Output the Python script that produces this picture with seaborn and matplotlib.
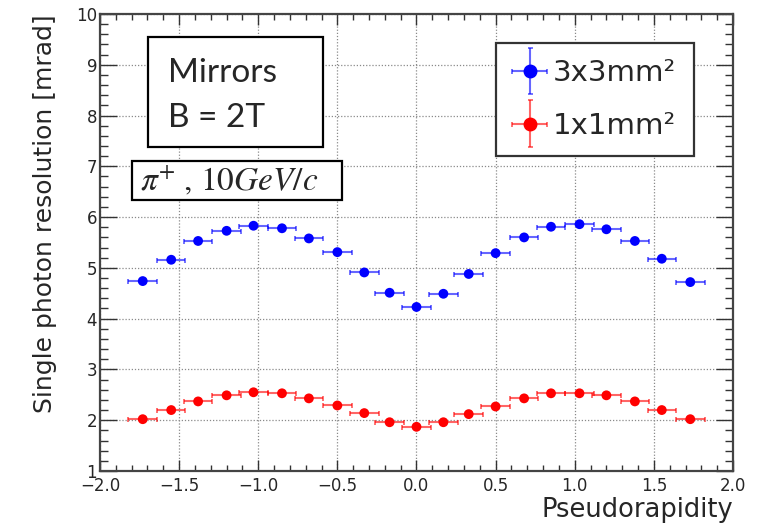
import matplotlib
matplotlib.use('Agg')
import matplotlib.pyplot as plt
import seaborn as sns
import pandas as pd
from matplotlib.patches import Rectangle
from matplotlib.lines import Line2D
from matplotlib.container import ErrorbarContainer
from matplotlib.legend_handler import HandlerErrorbar, HandlerTuple
from matplotlib.ticker import MultipleLocator, FuncFormatter

# ---- data ----
eta = [-1.73, -1.55, -1.38, -1.20, -1.03, -0.85, -0.68, -0.50, -0.33, -0.17, 0.00,
       0.17, 0.33, 0.50, 0.68, 0.85, 1.03, 1.20, 1.38, 1.55, 1.73]
res_3x3 = [4.74, 5.16, 5.53, 5.73, 5.83, 5.78, 5.58, 5.31, 4.91, 4.51, 4.23,
           4.49, 4.88, 5.29, 5.60, 5.81, 5.86, 5.76, 5.53, 5.18, 4.72]
res_1x1 = [2.02, 2.20, 2.37, 2.49, 2.55, 2.53, 2.43, 2.29, 2.14, 1.96, 1.87,
           1.96, 2.12, 2.27, 2.43, 2.53, 2.53, 2.49, 2.37, 2.20, 2.02]
eta_err = 0.09
res_err = 0.03
series_labels = ['3x3mm\u00b2', '1x1mm\u00b2']
series_colors = ['#0000ff', '#ff0000']
x_ticks = [-2.0, -1.5, -1.0, -0.5, 0.0, 0.5, 1.0, 1.5, 2.0]
y_ticks = [1, 2, 3, 4, 5, 6, 7, 8, 9, 10]

sns.set_theme(style='ticks')
plt.rcParams['font.family'] = ['DejaVu Sans']
plt.rcParams['mathtext.fontset'] = 'stix'

fig = plt.figure(figsize=(7.61, 5.26), dpi=100)
ax = fig.add_axes([0.1314, 0.1046, 0.8318, 0.8688])

df = pd.DataFrame({
    'eta': eta + eta,
    'res': res_3x3 + res_1x1,
    'series': [series_labels[0]] * len(eta) + [series_labels[1]] * len(eta),
})

containers = []
for vals, col in zip([res_3x3, res_1x1], series_colors):
    eb = ax.errorbar(eta, vals, xerr=eta_err, yerr=res_err, fmt='none',
                     ecolor=col, alpha=0.6, elinewidth=1.5, capsize=1.8,
                     capthick=1.3, zorder=2)
    containers.append(eb)

sns.scatterplot(data=df, x='eta', y='res', hue='series',
                palette=dict(zip(series_labels, series_colors)),
                s=50, edgecolor='none', linewidth=0, legend=False,
                ax=ax, zorder=3)

ax.set_xlim(-2.0, 2.0)
ax.set_ylim(1, 10)
ax.xaxis.set_minor_locator(MultipleLocator(0.1))
ax.yaxis.set_minor_locator(MultipleLocator(0.2))
ax.set_xticks(x_ticks)
ax.set_yticks(y_ticks)
ax.xaxis.set_major_formatter(FuncFormatter(lambda v, p: f'{v:.1f}'.replace('-', '\u2212')))
ax.yaxis.set_major_formatter(FuncFormatter(lambda v, p: f'{v:.0f}'))

ax.tick_params(which='both', direction='in', top=True, right=True,
               color='#333333', width=1.0, labelsize=12)
ax.tick_params(axis='x', which='major', length=8, pad=4)
ax.tick_params(axis='x', which='minor', length=4.5)
ax.tick_params(axis='y', which='major', length=12, pad=2)
ax.tick_params(axis='y', which='minor', length=5.5)

ax.grid(True, which='major', linestyle=(0, (1, 1.5)), color='#8a8a8a', linewidth=0.9)
ax.set_axisbelow(True)
for s in ax.spines.values():
    s.set_linewidth(1.6)
    s.set_color('#444444')

ax.set_xlabel('Pseudorapidity', fontsize=18.5, loc='right')
ax.set_ylabel('Single photon resolution [mrad]', fontsize=18, loc='top')
ax.xaxis.set_label_coords(1.0, -0.058)
ax.yaxis.set_label_coords(-0.068, 1.0)

# text boxes
ax.add_patch(Rectangle((0.0758, 0.709), 0.276, 0.2407, transform=ax.transAxes,
                       facecolor='white', edgecolor='black', linewidth=1.6,
                       zorder=5, clip_on=False))
ax.text(0.1074, 0.851, 'Mirrors', transform=ax.transAxes, fontsize=24,
        family=['Lato', 'DejaVu Sans'], va='baseline', ha='left', zorder=6)
ax.text(0.1074, 0.7527, 'B = 2T', transform=ax.transAxes, fontsize=24,
        family=['Lato', 'DejaVu Sans'], va='baseline', ha='left', zorder=6)

ax.add_patch(Rectangle((0.0506, 0.593), 0.3317, 0.085, transform=ax.transAxes,
                       facecolor='white', edgecolor='black', linewidth=1.6,
                       zorder=5, clip_on=False))
ax.text(0.0632, 0.615, r'$\pi^{+}\;,\,10GeV/c$', transform=ax.transAxes, fontsize=24,
        va='baseline', ha='left', zorder=6)

# legend
marker_handles = [Line2D([], [], marker='o', color=c, linestyle='none', markersize=9)
                  for c in series_colors]
handles = [(eb, mk) for eb, mk in zip(containers, marker_handles)]
leg = ax.legend(handles, series_labels,
                handler_map={tuple: HandlerTuple(ndivide=1, pad=0),
                             ErrorbarContainer: HandlerErrorbar(xerr_size=0.6, yerr_size=0.8)},
                loc='upper left', bbox_to_anchor=(0.6256, 0.687, 0.3128, 0.2495),
                mode='expand', borderaxespad=0,
                fontsize=21, handlelength=1.2, handletextpad=0.2, borderpad=0.55,
                labelspacing=0.85, frameon=True, fancybox=False, framealpha=1,
                edgecolor='#333333')
leg.get_frame().set_linewidth(1.6)
leg.set_zorder(6)

fig.savefig('out.png', dpi=100)
